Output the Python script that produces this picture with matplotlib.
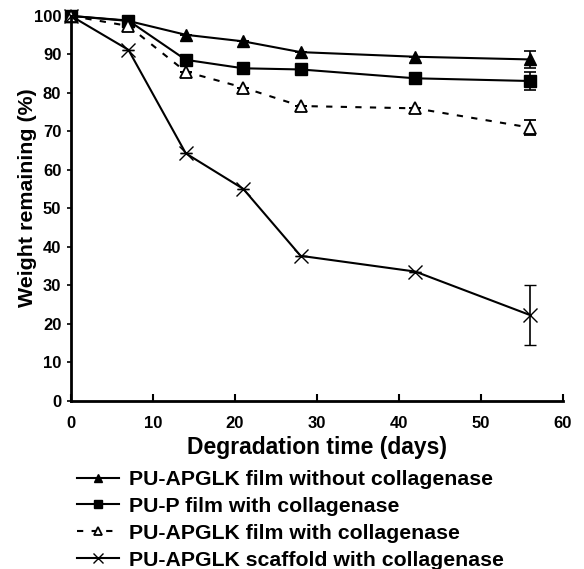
import matplotlib.pyplot as plt

plt.rcParams['font.family'] = ['Liberation Sans', 'DejaVu Sans']
plt.rcParams['font.weight'] = 'bold'

# degradation data
days = [0, 7, 14, 21, 28, 42, 56]
film_no_coll = [100, 98.7, 95.1, 93.4, 90.6, 89.4, 88.7]
pup_coll = [100, 98.8, 88.6, 86.4, 86.1, 83.8, 83.1]
film_coll = [100, 97.4, 85.5, 81.4, 76.6, 76.0, 71.0]
scaffold_coll = [100, 91.2, 64.3, 55.1, 37.7, 33.6, 22.3]

# error bars only at the last point
err_film_no_coll = [0, 0, 0, 0, 0, 0, 2.2]
err_pup_coll = [0, 0, 0, 0, 0, 0, 2.3]
err_film_coll = [0, 0, 0, 0, 0, 0, 1.9]
err_scaffold_coll = [0, 0, 0, 0, 0, 0, 7.7]

labels = ['PU-APGLK film without collagenase',
          'PU-P film with collagenase',
          'PU-APGLK film with collagenase',
          'PU-APGLK scaffold with collagenase']

fig = plt.figure(figsize=(5.84, 5.69), dpi=100)
ax = fig.add_axes([0.1216, 0.2953, 0.8424, 0.6767])

ax.errorbar(days, film_no_coll, yerr=err_film_no_coll,
            color='black', lw=1.5, marker='^', ms=9, mfc='black',
            capsize=4, elinewidth=1.2, capthick=1.2, clip_on=False,
            label=labels[0])
ax.errorbar(days, pup_coll, yerr=err_pup_coll,
            color='black', lw=1.5, marker='s', ms=9, mfc='black',
            capsize=4, elinewidth=1.2, capthick=1.2, clip_on=False,
            label=labels[1])
ax.errorbar(days, film_coll, yerr=err_film_coll,
            color='black', lw=1.5, ls=(0, (3, 4)), marker='^', ms=9, mfc='white',
            mew=1.3, capsize=4, elinewidth=1.2, capthick=1.2, clip_on=False,
            label=labels[2])
ax.errorbar(days, scaffold_coll, yerr=err_scaffold_coll,
            color='black', lw=1.5, marker='x', ms=10, mew=1.0,
            capsize=4, elinewidth=1.2, capthick=1.2, clip_on=False,
            label=labels[3])

ax.set_xlim(0, 60)
ax.set_ylim(0, 100)
ax.set_xticks(range(0, 61, 10))
ax.set_yticks(range(0, 101, 10))
ax.spines['top'].set_visible(False)
ax.spines['right'].set_visible(False)
ax.spines['left'].set_linewidth(2)
ax.spines['bottom'].set_linewidth(2)
ax.tick_params(axis='x', direction='in', length=5, width=1.5, labelsize=12, pad=11)
ax.tick_params(axis='y', direction='out', length=3, width=1.2, labelsize=12, pad=4)
for t in ax.get_xticklabels() + ax.get_yticklabels():
    t.set_fontweight('bold')

ax.set_xlabel('Degradation time (days)', fontsize=16.5, fontweight='bold')
ax.set_ylabel('Weight remaining (%)', fontsize=15.4, fontweight='bold')
ax.xaxis.set_label_coords(0.5, -0.092)
ax.yaxis.set_label_coords(-0.069, 0.527)

handles, labs = ax.get_legend_handles_labels()
handles = [h[0] for h in handles]
leg = fig.legend(handles, labs, loc='upper left', bbox_to_anchor=(0.131, 0.174),
                 frameon=False, fontsize=15.3, handlelength=2.0, handletextpad=0.45,
                 labelspacing=0.37, borderpad=0, borderaxespad=0, markerscale=0.7)
for t in leg.get_texts():
    t.set_fontweight('bold')

fig.savefig('out.png', dpi=100)
